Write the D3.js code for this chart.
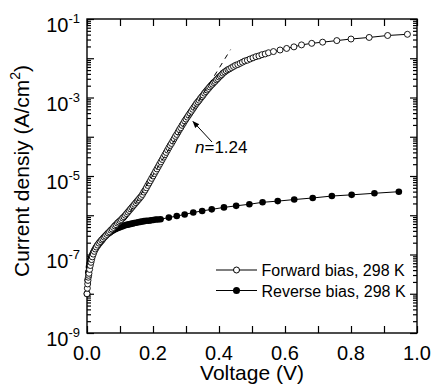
<!DOCTYPE html>
<html><head><meta charset="utf-8">
<script src="https://cdn.jsdelivr.net/npm/d3@7"></script>
<style>body{margin:0;background:#fff}svg{display:block;font-family:"Liberation Sans",Arial,sans-serif}</style>
</head><body>
<svg id="c" width="432" height="392"></svg>
<script>
// ---- data ----
const forwardV = [0.000,0.001,0.002,0.003,0.004,0.005,0.006,0.008,0.010,0.012,0.014,0.016,0.019,0.022,0.025,0.028,0.032,0.036,0.040,0.044,0.048,0.052,0.056,0.060,0.064,0.068,0.072,0.076,0.080,0.084,0.088,0.092,0.096,0.100,0.104,0.108,0.112,0.116,0.120,0.124,0.128,0.132,0.136,0.140,0.144,0.148,0.152,0.156,0.160,0.164,0.168,0.172,0.176,0.180,0.184,0.188,0.192,0.196,0.200,0.204,0.208,0.212,0.216,0.220,0.224,0.228,0.232,0.236,0.240,0.244,0.248,0.252,0.256,0.260,0.264,0.268,0.272,0.276,0.280,0.284,0.288,0.292,0.296,0.300,0.304,0.308,0.312,0.316,0.320,0.324,0.328,0.332,0.336,0.340,0.344,0.348,0.352,0.356,0.360,0.364,0.368,0.372,0.376,0.380,0.384,0.388,0.392,0.396,0.400,0.404,0.408,0.412,0.417,0.422,0.427,0.432,0.438,0.444,0.450,0.457,0.464,0.471,0.478,0.486,0.494,0.503,0.512,0.521,0.530,0.540,0.550,0.565,0.585,0.605,0.627,0.650,0.681,0.714,0.757,0.800,0.855,0.911,0.971];
const forwardLogJ = [-8.00,-7.86,-7.75,-7.66,-7.58,-7.53,-7.48,-7.38,-7.28,-7.20,-7.13,-7.06,-6.99,-6.92,-6.86,-6.81,-6.76,-6.71,-6.67,-6.63,-6.60,-6.56,-6.53,-6.49,-6.45,-6.42,-6.38,-6.35,-6.31,-6.27,-6.24,-6.20,-6.17,-6.14,-6.11,-6.07,-6.04,-6.00,-5.96,-5.92,-5.88,-5.84,-5.80,-5.76,-5.72,-5.68,-5.64,-5.60,-5.56,-5.52,-5.47,-5.41,-5.36,-5.30,-5.24,-5.18,-5.12,-5.06,-5.00,-4.94,-4.88,-4.82,-4.76,-4.70,-4.64,-4.58,-4.52,-4.46,-4.40,-4.34,-4.28,-4.22,-4.17,-4.11,-4.05,-3.99,-3.94,-3.88,-3.82,-3.77,-3.71,-3.66,-3.60,-3.55,-3.50,-3.45,-3.40,-3.35,-3.30,-3.25,-3.20,-3.15,-3.11,-3.07,-3.02,-2.98,-2.94,-2.89,-2.85,-2.81,-2.77,-2.73,-2.69,-2.66,-2.62,-2.59,-2.55,-2.52,-2.48,-2.45,-2.42,-2.38,-2.35,-2.32,-2.29,-2.27,-2.24,-2.21,-2.18,-2.16,-2.13,-2.10,-2.07,-2.05,-2.02,-1.99,-1.96,-1.94,-1.91,-1.89,-1.86,-1.83,-1.79,-1.75,-1.71,-1.66,-1.62,-1.59,-1.55,-1.51,-1.47,-1.42,-1.39];

const reverseV = [0.000,0.002,0.004,0.006,0.008,0.010,0.013,0.016,0.019,0.022,0.025,0.028,0.031,0.034,0.038,0.042,0.046,0.050,0.054,0.058,0.062,0.066,0.070,0.074,0.078,0.082,0.086,0.090,0.094,0.098,0.103,0.108,0.113,0.118,0.123,0.128,0.133,0.138,0.143,0.149,0.155,0.161,0.167,0.173,0.180,0.187,0.194,0.201,0.208,0.215,0.223,0.248,0.272,0.296,0.322,0.349,0.378,0.415,0.452,0.492,0.532,0.578,0.628,0.684,0.742,0.802,0.871,0.945];
const reverseLogJ = [-8.00,-7.65,-7.45,-7.32,-7.23,-7.16,-7.08,-7.01,-6.95,-6.90,-6.86,-6.82,-6.78,-6.75,-6.71,-6.67,-6.63,-6.58,-6.54,-6.51,-6.48,-6.46,-6.43,-6.41,-6.39,-6.37,-6.35,-6.34,-6.32,-6.31,-6.29,-6.28,-6.26,-6.25,-6.24,-6.23,-6.22,-6.21,-6.20,-6.19,-6.18,-6.17,-6.16,-6.15,-6.14,-6.14,-6.13,-6.12,-6.11,-6.11,-6.10,-6.06,-6.02,-5.98,-5.93,-5.89,-5.85,-5.80,-5.76,-5.72,-5.67,-5.64,-5.60,-5.56,-5.51,-5.48,-5.44,-5.40];

const fitV = [0.115, 0.435];
const fitLogJ = [-6.13, -1.78];

const xTickValues = [0,0.1,0.2,0.3,0.4,0.5,0.6,0.7,0.8,0.9,1.0];
const xTickLabels = ["0.0","0.2","0.4","0.6","0.8","1.0"];
const yDecades = [-9,-8,-7,-6,-5,-4,-3,-2,-1];
const yLabelExps = ["-9","-7","-5","-3","-1"];
const legendLabels = ["Forward bias, 298 K","Reverse bias, 298 K"];
const annotation = {n:"n", rest:"=1.24"};

// ---- layout ----
const L=87,R=417,T=19,B=333;
const svg=d3.select("#c");
const x=d3.scaleLinear().domain([0,1]).range([L,R]);
const y=d3.scaleLog().domain([1e-9,1e-1]).range([B,T]);

const majors=yDecades.map(d=>Math.pow(10,d));
const minors=[];
yDecades.slice(0,-1).forEach(d=>{for(let k=2;k<=9;k++)minors.push(k*Math.pow(10,d));});

function ax(gen,tr){return svg.append("g").attr("transform",tr).call(gen).call(g=>{g.select(".domain").remove();g.selectAll("text").remove();g.selectAll("line").attr("stroke","#000").attr("stroke-width",1.2);});}
ax(d3.axisLeft(y).tickValues(majors).tickSizeInner(-7),`translate(${L},0)`);
ax(d3.axisLeft(y).tickValues(minors).tickSizeInner(-4),`translate(${L},0)`);
ax(d3.axisRight(y).tickValues(majors).tickSizeInner(-7),`translate(${R},0)`);
ax(d3.axisRight(y).tickValues(minors).tickSizeInner(-4),`translate(${R},0)`);
ax(d3.axisBottom(x).tickValues(xTickValues).tickSizeInner(-7),`translate(0,${B})`);
ax(d3.axisTop(x).tickValues(xTickValues).tickSizeInner(-7),`translate(0,${T})`);

svg.append("rect").attr("x",L).attr("y",T).attr("width",R-L).attr("height",B-T)
  .attr("fill","none").attr("stroke","#000").attr("stroke-width",1.4);

// x tick labels
svg.append("g").selectAll("text").data(xTickLabels).join("text")
  .attr("x",d=>x(+d)).attr("y",360).attr("text-anchor","middle")
  .attr("font-size",20).text(d=>d);
// y tick labels
const yl=svg.append("g").selectAll("text").data(yLabelExps).join("text")
  .attr("x",L-7).attr("y",d=>y(Math.pow(10,+d))+13).attr("text-anchor","end").attr("font-size",20);
yl.append("tspan").text("10");
yl.append("tspan").attr("font-size",13).attr("dy",-9).text(d=>d);

// axis titles
svg.append("text").attr("x",(L+R)/2).attr("y",380).attr("text-anchor","middle").attr("font-size",21).text("Voltage (V)");
const yt=svg.append("text").attr("transform","translate(29,171) rotate(-90)").attr("text-anchor","middle").attr("font-size",21);
yt.append("tspan").text("Current densiy (A/cm");
yt.append("tspan").attr("font-size",14).attr("dy",-9).text("2");
yt.append("tspan").attr("dy",9).text(")");

// data
const fwd=forwardV.map((v,i)=>({v,j:Math.pow(10,forwardLogJ[i])}));
const rev=reverseV.map((v,i)=>({v,j:Math.pow(10,reverseLogJ[i])}));
const line=d3.line().x(d=>x(d.v)).y(d=>y(d.j));

svg.append("path").datum(rev).attr("d",line).attr("fill","none").attr("stroke","#000").attr("stroke-width",1);
svg.append("g").selectAll("circle").data(rev).join("circle")
  .attr("cx",d=>x(d.v)).attr("cy",d=>y(d.j)).attr("r",3.3).attr("fill","#000");

svg.append("path").datum(fwd).attr("d",line).attr("fill","none").attr("stroke","#000").attr("stroke-width",1);
svg.append("g").selectAll("circle").data(fwd).join("circle")
  .attr("cx",d=>x(d.v)).attr("cy",d=>y(d.j)).attr("r",3).attr("fill","#fff").attr("stroke","#000").attr("stroke-width",0.9);

// fit line
const fit=fitV.map((v,i)=>({v,j:Math.pow(10,fitLogJ[i])}));
svg.append("path").datum(fit).attr("d",line).attr("fill","none").attr("stroke","#000").attr("stroke-width",1).attr("stroke-dasharray","5,5");

// annotation arrow
svg.append("defs").append("marker").attr("id","ah").attr("viewBox","0 0 10 10").attr("refX",9).attr("refY",5)
  .attr("markerWidth",7).attr("markerHeight",7).attr("orient","auto")
  .append("path").attr("d","M0,1 L10,5 L0,9 Z").attr("fill","#000");
svg.append("line").attr("x1",212).attr("y1",142).attr("x2",193).attr("y2",121.5)
  .attr("stroke","#000").attr("stroke-width",1).attr("marker-end","url(#ah)");
const an=svg.append("text").attr("x",195).attr("y",153).attr("font-size",17);
an.append("tspan").attr("font-style","italic").text(annotation.n);
an.append("tspan").text(annotation.rest);

// legend
const lg=svg.append("g");
[0,1].forEach(i=>{
  const ly=[270,290.5][i];
  lg.append("line").attr("x1",216).attr("x2",257).attr("y1",ly).attr("y2",ly).attr("stroke","#000").attr("stroke-width",1);
  if(i===0) lg.append("circle").attr("cx",236.5).attr("cy",ly).attr("r",3).attr("fill","#fff").attr("stroke","#000").attr("stroke-width",1);
  else lg.append("circle").attr("cx",236.5).attr("cy",ly).attr("r",3.5).attr("fill","#000");
  lg.append("text").attr("x",261.5).attr("y",ly+6).attr("font-size",16).text(legendLabels[i]);
});
</script>
</body></html>
